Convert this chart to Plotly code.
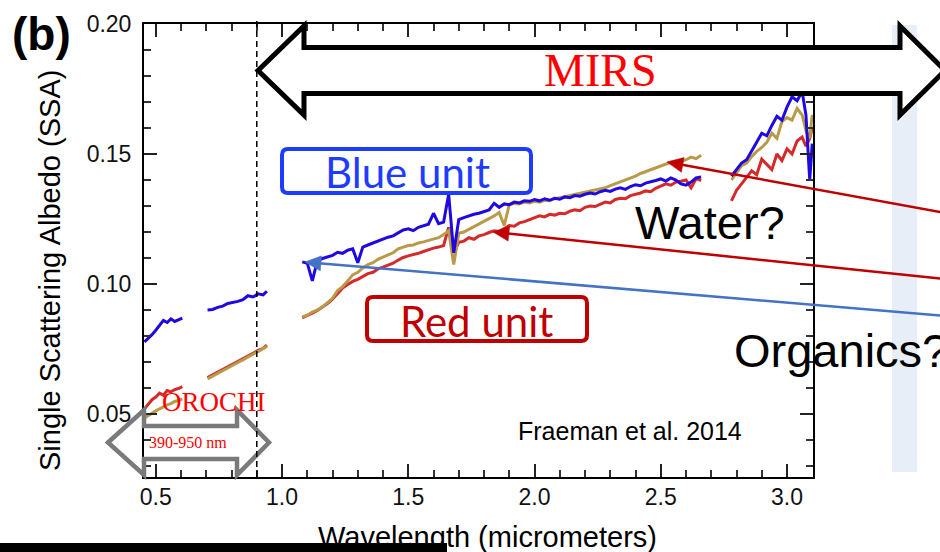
import plotly.graph_objects as go

# ---------------- data ----------------
wl_vis1 = [0.455, 0.47, 0.485, 0.50, 0.515, 0.53, 0.545, 0.56, 0.575, 0.59, 0.605]
blue_vis1 = [0.0777, 0.0790, 0.0805, 0.0822, 0.0840, 0.0860, 0.0852, 0.0866, 0.0856, 0.0863, 0.0869]
red_vis1 = [0.0520, 0.0538, 0.0555, 0.0565, 0.0580, 0.0572, 0.0590, 0.0585, 0.0594, 0.0598, 0.0605]
gold_vis1 = [0.0485, 0.0495, 0.0505, 0.0512, 0.0520, 0.0528, 0.0535, 0.0540, 0.0548, 0.0552, 0.0558]

wl_vis2 = [0.705, 0.725, 0.745, 0.765, 0.785, 0.805, 0.825, 0.845, 0.865, 0.885, 0.905, 0.925, 0.94]
blue_vis2 = [0.0900, 0.0902, 0.0910, 0.0915, 0.0925, 0.0928, 0.0933, 0.0940, 0.0955, 0.0950, 0.0962, 0.0958, 0.0972]
red_vis2 = [0.0640, 0.0650, 0.0662, 0.0670, 0.0682, 0.0690, 0.0702, 0.0712, 0.0722, 0.0733, 0.0745, 0.0752, 0.0765]
gold_vis2 = [0.0635, 0.0646, 0.0657, 0.0668, 0.0678, 0.0688, 0.0698, 0.0708, 0.0720, 0.0730, 0.0740, 0.0750, 0.0760]

wl_ir1 = [1.08, 1.10, 1.12, 1.14, 1.16, 1.18, 1.20, 1.22, 1.24, 1.26, 1.28, 1.30, 1.32, 1.34, 1.36, 1.38,
          1.40, 1.42, 1.44, 1.46, 1.48, 1.50, 1.52, 1.54, 1.56, 1.58, 1.60, 1.62, 1.64, 1.66, 1.68, 1.70,
          1.72, 1.74, 1.76, 1.78, 1.80, 1.82, 1.84, 1.86, 1.88, 1.90, 1.92, 1.94, 1.96, 1.98, 2.00, 2.02,
          2.04, 2.06, 2.08, 2.10, 2.12, 2.14, 2.16, 2.18, 2.20, 2.22, 2.24, 2.26, 2.28, 2.30, 2.32, 2.34,
          2.36, 2.38, 2.40, 2.42, 2.44, 2.46, 2.48, 2.50, 2.52, 2.54, 2.56, 2.58, 2.60, 2.62, 2.64, 2.66]
blue_ir1 = [0.1085, 0.1080, 0.1012, 0.1090, 0.1098, 0.1105, 0.1110, 0.1122, 0.1118, 0.1130, 0.1135, 0.1082,
            0.1142, 0.1150, 0.1158, 0.1165, 0.1172, 0.1180, 0.1185, 0.1198, 0.1208, 0.1212, 0.1205, 0.1218,
            0.1225, 0.1230, 0.1272, 0.1232, 0.1238, 0.1345, 0.1120, 0.1248, 0.1255, 0.1262, 0.1268, 0.1272,
            0.1280, 0.1285, 0.1310, 0.1295, 0.1308, 0.1305, 0.1315, 0.1312, 0.1320, 0.1318, 0.1325, 0.1320,
            0.1328, 0.1322, 0.1330, 0.1326, 0.1335, 0.1332, 0.1340, 0.1338, 0.1345, 0.1350, 0.1346, 0.1355,
            0.1360, 0.1356, 0.1365, 0.1370, 0.1364, 0.1375, 0.1382, 0.1378, 0.1388, 0.1392, 0.1398, 0.1404,
            0.1396, 0.1408, 0.1400, 0.1385, 0.1380, 0.1392, 0.1408, 0.1412]
gold_ir1 = [0.0873, 0.0880, 0.0892, 0.0900, 0.0912, 0.0928, 0.0945, 0.0975, 0.0990, 0.1012, 0.1035, 0.1045,
            0.1062, 0.1075, 0.1082, 0.1095, 0.1102, 0.1112, 0.1120, 0.1135, 0.1142, 0.1148, 0.1150, 0.1158,
            0.1162, 0.1168, 0.1172, 0.1178, 0.1190, 0.1205, 0.1075, 0.1195, 0.1200, 0.1210, 0.1222, 0.1230,
            0.1242, 0.1250, 0.1262, 0.1275, 0.1225, 0.1305, 0.1310, 0.1308, 0.1315, 0.1312, 0.1318, 0.1315,
            0.1322, 0.1320, 0.1328, 0.1332, 0.1336, 0.1340, 0.1345, 0.1350, 0.1352, 0.1358, 0.1362, 0.1365,
            0.1370, 0.1378, 0.1385, 0.1392, 0.1398, 0.1405, 0.1415, 0.1425, 0.1432, 0.1440, 0.1448, 0.1455,
            0.1462, 0.1468, 0.1472, 0.1470, 0.1478, 0.1488, 0.1482, 0.1495]
red_ir1 = [0.0870, 0.0878, 0.0888, 0.0898, 0.0910, 0.0925, 0.0942, 0.0965, 0.0985, 0.0998, 0.1010, 0.1018,
           0.1028, 0.1040, 0.1045, 0.1058, 0.1065, 0.1072, 0.1080, 0.1092, 0.1102, 0.1108, 0.1112, 0.1118,
           0.1125, 0.1132, 0.1138, 0.1142, 0.1148, 0.1218, 0.1120, 0.1160, 0.1165, 0.1178, 0.1172, 0.1185,
           0.1190, 0.1198, 0.1205, 0.1202, 0.1215, 0.1225, 0.1222, 0.1235, 0.1240, 0.1248, 0.1255, 0.1262,
           0.1258, 0.1268, 0.1265, 0.1272, 0.1270, 0.1280, 0.1285, 0.1282, 0.1295, 0.1300, 0.1298, 0.1308,
           0.1315, 0.1312, 0.1325, 0.1330, 0.1328, 0.1340, 0.1345, 0.1350, 0.1358, 0.1355, 0.1368, 0.1375,
           0.1385, 0.1380, 0.1392, 0.1395, 0.1400, 0.1370, 0.1405, 0.1398]

wl_ir2 = [2.78, 2.80, 2.82, 2.84, 2.86, 2.88, 2.90, 2.92, 2.94, 2.96, 2.98, 3.00, 3.02, 3.04, 3.06, 3.075, 3.09, 3.10]
blue_ir2 = [0.1415, 0.1440, 0.1465, 0.1478, 0.1510, 0.1545, 0.1580, 0.1570, 0.1610, 0.1645, 0.1630, 0.1680,
            0.1720, 0.1705, 0.1740, 0.1650, 0.1400, 0.1540]
gold_ir2 = [0.1400, 0.1430, 0.1455, 0.1465, 0.1490, 0.1510, 0.1525, 0.1545, 0.1580, 0.1560, 0.1625, 0.1640,
            0.1630, 0.1675, 0.1650, 0.1590, 0.1560, 0.1650]
red_ir2 = [0.1320, 0.1360, 0.1385, 0.1410, 0.1435, 0.1420, 0.1480, 0.1460, 0.1440, 0.1500, 0.1475, 0.1520,
           0.1500, 0.1550, 0.1565, 0.1530, 0.1560, 0.1600]

x_ticks = [0.5, 1.0, 1.5, 2.0, 2.5, 3.0]
y_ticks = [0.05, 0.10, 0.15, 0.20]
orochi_edge = 0.9

# ---------------- geometry helpers ----------------
W, H = 940, 552
ML, MR, MT, MB = 144, 127, 24, 75
PW = W - ML - MR
PH = H - MT - MB


def fx(p):
    return (p - ML) / PW


def fy(p):
    return (H - MB - p) / PH


def path(points, close=True):
    s = "M " + " L ".join(f"{fx(a):.5f},{fy(b):.5f}" for a, b in points)
    return s + (" Z" if close else "")


def rrect(x0, y0, x1, y1, r):
    P = lambda a, b: f"{fx(a):.5f},{fy(b):.5f}"
    return (f"M {P(x0 + r, y0)} L {P(x1 - r, y0)} Q {P(x1, y0)} {P(x1, y0 + r)} "
            f"L {P(x1, y1 - r)} Q {P(x1, y1)} {P(x1 - r, y1)} L {P(x0 + r, y1)} "
            f"Q {P(x0, y1)} {P(x0, y1 - r)} L {P(x0, y0 + r)} Q {P(x0, y0)} {P(x0 + r, y0)} Z")


def join(*segs):
    out = []
    for i, s in enumerate(segs):
        if i:
            out.append(None)
        out.extend(s)
    return out


wl_all = join(wl_vis1, wl_vis2, wl_ir1, wl_ir2)
series = [
    ("red", join(red_vis1, red_vis2, red_ir1, red_ir2), "#d42a2a"),
    ("gold", join(gold_vis1, gold_vis2, gold_ir1, gold_ir2), "#b89a48"),
    ("blue", join(blue_vis1, blue_vis2, blue_ir1, blue_ir2), "#2008e0"),
]

fig = go.Figure()
for name, ys, col in series:
    fig.add_trace(go.Scatter(x=wl_all, y=ys, mode="lines", name=name,
                             line=dict(color=col, width=3), connectgaps=False,
                             hoverinfo="skip"))

shapes = []
# light blue band at right
shapes.append(dict(type="rect", xref="paper", yref="paper", x0=fx(892), x1=fx(917), y0=fy(472), y1=fy(25),
                   fillcolor="#e8eef8", line=dict(width=0), layer="above"))
# MIRS double arrow
shapes.append(dict(type="path", xref="paper", yref="paper",
                   path=path([(258, 70.5), (304, 26), (304, 47.5), (900, 47.5), (900, 26), (945, 70.5),
                              (900, 115), (900, 93.5), (304, 93.5), (304, 115)]),
                   fillcolor="white", line=dict(color="black", width=5), layer="above"))
# OROCHI gray double arrow
shapes.append(dict(type="path", xref="paper", yref="paper",
                   path=path([(108, 442.5), (144, 410), (144, 426), (237, 426), (237, 410), (269, 442.5),
                              (237, 475), (237, 459), (144, 459), (144, 475)]),
                   fillcolor="rgba(255,255,255,0)", line=dict(color="#7a7a7a", width=4.5), layer="above"))
# dashed line at 0.9 um
shapes.append(dict(type="line", xref="x", yref="paper", x0=orochi_edge, x1=orochi_edge, y0=0, y1=fy(18),
                   line=dict(color="black", width=1.5, dash="6px,4px"), layer="above"))
# unit boxes
shapes.append(dict(type="path", xref="paper", yref="paper", path=rrect(282, 149, 531, 193, 6),
                   fillcolor="white", line=dict(color="#1e3cff", width=4), layer="above"))
shapes.append(dict(type="path", xref="paper", yref="paper", path=rrect(367, 297, 587, 341, 6),
                   fillcolor="white", line=dict(color="#c00000", width=4), layer="above"))


def arrow(tail, tip, color, width=2.5, hl=16, hw=7.5):
    dx, dy = tip[0] - tail[0], tip[1] - tail[1]
    n = (dx * dx + dy * dy) ** 0.5
    ux, uy = dx / n, dy / n
    bx, by = tip[0] - hl * ux, tip[1] - hl * uy
    nx, ny = -uy, ux
    shapes.append(dict(type="line", xref="paper", yref="paper", x0=fx(tail[0]), y0=fy(tail[1]),
                       x1=fx(bx + 2 * ux), y1=fy(by + 2 * uy), line=dict(color=color, width=width),
                       layer="above"))
    shapes.append(dict(type="path", xref="paper", yref="paper",
                       path=path([tip, (bx + hw * nx, by + hw * ny), (bx - hw * nx, by - hw * ny)]),
                       fillcolor=color, line=dict(color=color, width=0.5), layer="above"))


arrow((945, 213), (667, 162), "#c00000")
arrow((945, 279), (493, 232), "#c00000")
arrow((945, 316), (305, 262), "#4472c4")

fig.update_layout(shapes=shapes)

SANS = "Liberation Sans, Arial, sans-serif"
SERIF = "Liberation Serif, Times New Roman, serif"
LATO = "Lato, Carlito, sans-serif"


def txt(t, x, y, size, color="black", family=SANS, xanchor="center", angle=0, bold=False):
    if bold:
        t = f"<b>{t}</b>"
    return dict(text=t, x=fx(x), y=fy(y), xref="paper", yref="paper", showarrow=False,
                xanchor=xanchor, yanchor="middle", textangle=angle,
                font=dict(size=size, color=color, family=family))


annotations = [
    txt("(b)", 41, 34, 46, bold=True),
    txt("Single Scattering Albedo (SSA)", 50, 271, 29, angle=-90),
    txt("Wavelength (micrometers)", 487, 537, 29),
    txt("MIRS", 600, 71, 46, color="#ff0000", family=SERIF),
    txt("Blue unit", 407, 172, 42, color="#1e3cff", family=LATO),
    txt("Red unit", 476, 321, 42, color="#c00000", family=LATO),
    txt("Water?", 710, 222, 47),
    txt("Organics?", 732, 350, 47, xanchor="left"),
    txt("Fraeman et al. 2014", 630, 431, 25),
    txt("OROCHI", 214, 402, 27, color="#ff0000", family=SERIF),
    txt("390-950 nm", 188, 442, 16, color="#ff0000", family=SERIF),
    # black bar at the bottom-left edge (covers part of the axis title)
    dict(text=" ", x=fx(0), y=fy(552), xref="paper", yref="paper", showarrow=False,
         xanchor="left", yanchor="bottom", width=447, height=9, bgcolor="black", borderpad=0,
         borderwidth=0, font=dict(size=1)),
]
fig.update_layout(annotations=annotations)

axis_common = dict(showline=True, linecolor="black", linewidth=2, mirror="allticks", ticks="inside",
                   ticklen=13, tickwidth=2, tickcolor="#222", showgrid=False, zeroline=False,
                   tickfont=dict(size=23, color="#111", family=SANS))
fig.update_xaxes(range=[0.4533, 3.103], tickmode="array", tickvals=x_ticks,
                 ticktext=[f"{v:.1f}" for v in x_ticks], ticklabelstandoff=-2,
                 minor=dict(dtick=0.1, tick0=0, ticks="inside", ticklen=7, tickwidth=1.6, tickcolor="#333"),
                 **axis_common)
fig.update_yaxes(range=[0.02577, 0.2], tickmode="array", tickvals=y_ticks,
                 ticktext=[f"{v:.2f}" for v in y_ticks], ticklabelstandoff=6,
                 minor=dict(dtick=0.01, tick0=0, ticks="inside", ticklen=7, tickwidth=1.6, tickcolor="#333"),
                 **axis_common)

fig.update_layout(width=W, height=H, margin=dict(l=ML, r=MR, t=MT, b=MB, pad=0),
                  paper_bgcolor="white", plot_bgcolor="white", showlegend=False,
                  font=dict(family=SANS))

fig.write_html("out.html")
